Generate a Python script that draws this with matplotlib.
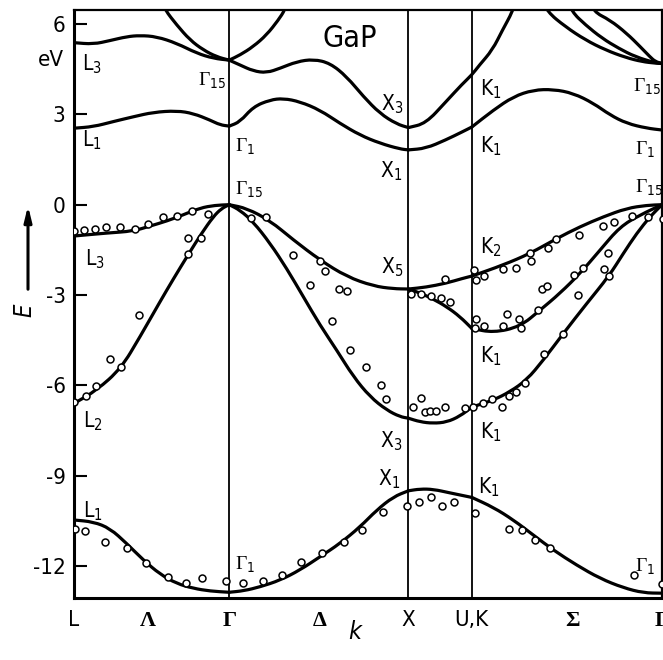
import numpy as np
import matplotlib
matplotlib.use('Agg')
import matplotlib.pyplot as plt
from matplotlib import transforms, font_manager
from matplotlib.path import Path
from matplotlib.patches import PathPatch

# pick a narrow sans face if one is available
_names = {f.name for f in font_manager.fontManager.ttflist}
narrow = next((n for n in ['Liberation Sans Narrow', 'DejaVu Sans Condensed']
               if n in _names), 'DejaVu Sans')
plt.rcParams['font.family'] = [narrow, 'DejaVu Sans']
plt.rcParams['font.stretch'] = 'condensed'
plt.rcParams['mathtext.fontset'] = 'custom'
plt.rcParams['mathtext.rm'] = narrow + ':stretch=condensed'
plt.rcParams['mathtext.it'] = narrow + ':italic:stretch=condensed'
plt.rcParams['mathtext.bf'] = narrow + ':bold:stretch=condensed'

# symmetry points along the path (units of 2pi/a)
sym_k = [0.0, 0.413, 0.866, 1.373, 1.866, 2.220, 2.779, 3.281]
sym_lab = ['L', 'Λ', 'Γ', 'Δ', 'X', 'U,K', 'Σ', 'Γ']
k_lines = [0.866, 1.866, 2.220]

# --- calculated bands, E in eV ---
# L -> Gamma
lg_v1_k = [0, 0.108, 0.201, 0.294, 0.387, 0.480, 0.573, 0.666, 0.759, 0.866]
lg_v1_e = [-10.47, -10.53, -10.75, -11.25, -11.80, -12.27, -12.58, -12.74, -12.83, -12.87]
lg_v2_k = [0, 0.127, 0.262, 0.368, 0.480, 0.554, 0.638, 0.712, 0.777, 0.822, 0.866]
lg_v2_e = [-6.60, -6.16, -5.44, -4.39, -3.22, -2.47, -1.65, -0.95, -0.40, -0.13, 0]
lg_v3_k = [0, 0.184, 0.329, 0.424, 0.519, 0.608, 0.703, 0.787, 0.866]
lg_v3_e = [-1.04, -0.94, -0.88, -0.71, -0.54, -0.34, -0.11, -0.02, 0]
lg_c1_k = [0, 0.108, 0.219, 0.331, 0.443, 0.573, 0.666, 0.759, 0.815, 0.866]
lg_c1_e = [2.54, 2.59, 2.76, 2.92, 3.07, 3.12, 3.03, 2.81, 2.65, 2.61]
lg_c2_k = [0, 0.108, 0.201, 0.294, 0.368, 0.461, 0.573, 0.685, 0.778, 0.866]
lg_c2_e = [5.38, 5.33, 5.45, 5.58, 5.62, 5.58, 5.36, 5.03, 4.86, 4.80]
lg_c3_k = [0.469, 0.508, 0.573, 0.647, 0.721, 0.796, 0.866]
lg_c3_e = [6.96, 6.47, 5.97, 5.47, 5.14, 4.91, 4.80]

# Gamma -> X
gx_v1_k = [0.866, 0.948, 1.038, 1.150, 1.261, 1.373, 1.484, 1.596, 1.689, 1.782, 1.866]
gx_v1_e = [-12.87, -12.82, -12.69, -12.47, -12.13, -11.69, -11.25, -10.70, -10.14, -9.70, -9.50]
gx_v2_k = [0.866, 0.926, 1.0, 1.094, 1.187, 1.280, 1.373, 1.466, 1.559, 1.652, 1.745, 1.819, 1.866]
gx_v2_e = [0, -0.18, -0.57, -1.28, -2.12, -3.06, -4.00, -4.83, -5.71, -6.38, -6.82, -7.04, -7.09]
gx_v3_k = [0.866, 0.964, 1.094, 1.224, 1.373, 1.522, 1.670, 1.780, 1.866]
gx_v3_e = [0, -0.12, -0.53, -1.17, -1.84, -2.39, -2.70, -2.79, -2.80]
gx_c1_k = [0.866, 0.926, 1.0, 1.094, 1.168, 1.261, 1.373, 1.484, 1.596, 1.707, 1.819, 1.866]
gx_c1_e = [2.61, 2.75, 3.25, 3.48, 3.53, 3.42, 3.14, 2.70, 2.31, 2.04, 1.85, 1.82]
gx_c2_k = [0.866, 0.926, 1.0, 1.075, 1.150, 1.243, 1.336, 1.429, 1.522, 1.615, 1.707, 1.800, 1.866]
gx_c2_e = [4.80, 4.64, 4.44, 4.38, 4.53, 4.75, 4.83, 4.70, 4.25, 3.59, 3.03, 2.68, 2.56]
gx_c3_k = [0.866, 0.926, 1.0, 1.075, 1.140, 1.177, 1.205]
gx_c3_e = [4.80, 4.97, 5.25, 5.64, 6.13, 6.47, 6.96]

# X -> U,K
xk_v1_k = [1.866, 1.931, 2.005, 2.098, 2.220]
xk_v1_e = [-9.50, -9.44, -9.45, -9.57, -9.72]
xk_v2_k = [1.866, 1.931, 2.003, 2.080, 2.154, 2.220]
xk_v2_e = [-7.09, -7.21, -7.26, -7.22, -7.02, -6.72]
xk_v3_k = [1.866, 1.931, 2.003, 2.080, 2.154, 2.220]
xk_v3_e = [-2.80, -2.93, -3.13, -3.39, -3.72, -4.11]
xk_v4_k = [1.866, 1.963, 2.074, 2.167, 2.220]
xk_v4_e = [-2.80, -2.74, -2.61, -2.45, -2.37]
xk_c1_k = [1.866, 1.963, 2.074, 2.167, 2.220]
xk_c1_e = [1.82, 1.87, 2.15, 2.42, 2.58]
xk_c2_k = [1.866, 1.963, 2.074, 2.167, 2.220, 2.260, 2.335, 2.391, 2.447, 2.477]
xk_c2_e = [2.56, 2.70, 3.41, 4.01, 4.31, 4.62, 5.14, 5.80, 6.41, 6.96]

# K -> Gamma
kg_v1_k = [2.220, 2.340, 2.452, 2.563, 2.675, 2.805, 2.935, 3.065, 3.177, 3.281]
kg_v1_e = [-9.72, -10.05, -10.47, -10.97, -11.47, -11.97, -12.41, -12.72, -12.89, -12.90]
kg_v2_k = [2.220, 2.340, 2.433, 2.526, 2.619, 2.731, 2.861, 2.985, 3.065, 3.140, 3.214, 3.281]
kg_v2_e = [-6.72, -6.49, -6.21, -5.82, -5.16, -4.27, -3.28, -2.37, -1.62, -0.95, -0.40, 0]
kg_v3_k = [2.220, 2.340, 2.489, 2.601, 2.712, 2.824, 2.935, 3.047, 3.159, 3.281]
kg_v3_e = [-4.11, -4.25, -4.05, -3.50, -2.94, -2.28, -1.51, -0.73, -0.34, 0]
kg_v4_k = [2.220, 2.396, 2.545, 2.694, 2.824, 2.954, 3.084, 3.196, 3.281]
kg_v4_e = [-2.37, -2.00, -1.62, -1.12, -0.73, -0.40, -0.12, -0.02, 0]
kg_c1_k = [2.220, 2.340, 2.452, 2.563, 2.675, 2.786, 2.898, 2.991, 3.084, 3.196, 3.281]
kg_c1_e = [2.58, 3.14, 3.59, 3.81, 3.83, 3.70, 3.37, 2.98, 2.70, 2.54, 2.48]
kg_c2_k = [2.600, 2.640, 2.742, 2.854, 2.965, 3.077, 3.170, 3.244, 3.281]
kg_c2_e = [6.96, 6.41, 5.91, 5.47, 5.14, 4.89, 4.75, 4.70, 4.69]
kg_c3_k = [2.745, 2.777, 2.854, 2.946, 3.040, 3.133, 3.244, 3.281]
kg_c3_e = [6.96, 6.41, 5.97, 5.53, 5.19, 4.91, 4.71, 4.69]
kg_c4_k = [2.868, 2.898, 2.991, 3.084, 3.159, 3.214, 3.244, 3.281]
kg_c4_e = [6.96, 6.41, 6.13, 5.69, 5.25, 4.91, 4.75, 4.69]

bands = [
    (lg_v1_k, lg_v1_e), (lg_v2_k, lg_v2_e), (lg_v3_k, lg_v3_e),
    (lg_c1_k, lg_c1_e), (lg_c2_k, lg_c2_e), (lg_c3_k, lg_c3_e),
    (gx_v1_k, gx_v1_e), (gx_v2_k, gx_v2_e), (gx_v3_k, gx_v3_e),
    (gx_c1_k, gx_c1_e), (gx_c2_k, gx_c2_e), (gx_c3_k, gx_c3_e),
    (xk_v1_k, xk_v1_e), (xk_v2_k, xk_v2_e), (xk_v3_k, xk_v3_e),
    (xk_v4_k, xk_v4_e), (xk_c1_k, xk_c1_e), (xk_c2_k, xk_c2_e),
    (kg_v1_k, kg_v1_e), (kg_v2_k, kg_v2_e), (kg_v3_k, kg_v3_e),
    (kg_v4_k, kg_v4_e), (kg_c1_k, kg_c1_e), (kg_c2_k, kg_c2_e),
    (kg_c3_k, kg_c3_e), (kg_c4_k, kg_c4_e),
]

# --- photoemission data points ---
exp_k = [0, 0.056, 0.117, 0.177, 0.258, 0.340, 0.411, 0.494, 0.576, 0.660,
         0.749, 0.636, 0.711, 0.638, 0.364, 0.201, 0.262, 0.123, 0.065, 0,
         0.006, 0.061, 0.175, 0.297, 0.400, 0.526, 0.625, 0.716, 0.848,
         0.941, 1.053, 1.162, 1.267, 1.386, 1.507, 1.609, 1.726, 1.856, 1.925,
         1.994, 2.053, 2.122, 2.239,
         2.426, 2.498, 2.574, 2.656, 3.125, 3.283,
         0.986, 1.070, 1.224, 1.371, 1.402, 1.317, 1.479, 1.525, 1.438, 1.538,
         1.628, 1.713, 1.739,
         1.880, 1.936, 1.992, 2.046, 2.098, 2.070, 2.234, 2.241, 2.243, 2.238,
         1.890, 1.938, 1.957, 1.986, 2.018, 2.072, 2.182, 2.228,
         2.289, 2.392, 2.465, 2.550, 2.544, 2.643, 2.690, 2.820, 2.950, 3.015,
         3.112, 3.205, 3.287,
         2.610, 2.641, 2.792, 2.840, 2.814, 2.981, 2.959, 2.985,
         2.288, 2.414, 2.396, 2.481, 2.496, 2.591, 2.730, 2.624, 2.517, 2.466,
         2.426, 2.331, 2.281, 2.390]
exp_e = [-0.87, -0.84, -0.81, -0.73, -0.75, -0.80, -0.64, -0.40, -0.37, -0.20,
         -0.30, -1.11, -1.10, -1.65, -3.65, -5.13, -5.40, -6.02, -6.35, -6.55,
         -10.77, -10.85, -11.20, -11.39, -11.90, -12.37, -12.57, -12.40, -12.51,
         -12.57, -12.51, -12.31, -11.86, -11.57, -11.21, -10.81, -10.20, -10.01, -9.87,
         -9.69, -10.02, -9.88, -10.23,
         -10.78, -10.81, -11.14, -11.39, -12.29, -12.60,
         -0.45, -0.42, -1.68, -1.87, -2.19, -2.68, -2.81, -2.87, -3.86, -4.82,
         -5.39, -5.98, -6.46,
         -2.98, -2.98, -3.04, -3.11, -3.23, -2.46, -2.18, -2.51, -3.80, -4.11,
         -6.73, -6.43, -6.88, -6.86, -6.84, -6.72, -6.76, -6.73,
         -2.36, -2.14, -2.09, -1.86, -1.60, -1.43, -1.15, -1.02, -0.72, -0.57,
         -0.37, -0.40, -0.48,
         -2.81, -2.71, -2.33, -2.10, -2.99, -1.60, -2.14, -2.37,
         -4.02, -3.63, -4.04, -3.80, -4.10, -3.49, -4.30, -4.97, -5.92, -6.22,
         -6.35, -6.46, -6.60, -6.71]

# level labels: text, k, E (baseline), alignment
lab_txt = ['L$_3$', 'L$_1$', 'Γ$_{15}$', 'Γ$_1$', 'Γ$_{15}$', 'X$_3$', 'X$_1$',
           'K$_1$', 'K$_1$', 'Γ$_{15}$', 'Γ$_1$', 'Γ$_{15}$',
           'L$_3$', 'L$_2$', 'L$_1$', 'Γ$_1$', 'X$_5$', 'K$_2$', 'K$_1$',
           'X$_3$', 'K$_1$', 'X$_1$', 'K$_1$', 'Γ$_1$']
lab_k = [0.045, 0.045, 0.848, 0.898, 0.898, 1.836, 1.830,
         2.265, 2.265, 3.119, 3.130, 3.130,
         0.061, 0.050, 0.050, 0.898, 1.836, 2.265, 2.265,
         1.830, 2.265, 1.819, 2.254, 3.130]
lab_e = [4.47, 1.92, 3.94, 1.75, 0.32, 3.14, 0.92,
         3.64, 1.72, 3.74, 1.65, 0.39,
         -2.00, -7.38, -10.37, -12.13, -2.27, -1.61, -5.23,
         -8.05, -7.75, -9.31, -9.58, -12.20]
lab_ha = ['left', 'left', 'right', 'left', 'left', 'right', 'right',
          'left', 'left', 'left', 'left', 'left',
          'left', 'left', 'left', 'left', 'right', 'left', 'left',
          'right', 'left', 'right', 'left', 'left']


def band_path(k, e):
    # quadratic Bezier through the segment midpoints, ends pinned
    p = np.column_stack([k, e])
    mid = (p[:-1] + p[1:]) / 2
    verts = [p[0], mid[0]]
    codes = [Path.MOVETO, Path.LINETO]
    for i in range(1, len(p) - 1):
        verts += [p[i], mid[i]]
        codes += [Path.CURVE3, Path.CURVE3]
    verts.append(p[-1])
    codes.append(Path.LINETO)
    return Path(verts, codes)


fig = plt.figure(figsize=(6.63, 6.60), dpi=100)
ax = fig.add_axes([74/663, 1 - 598/660, 588/663, 588/660])

for kk, ee in bands:
    ax.add_patch(PathPatch(band_path(kk, ee), fill=False, edgecolor='black',
                           lw=2.3, capstyle='round', joinstyle='round', zorder=3))

for kl in k_lines:
    ax.axvline(kl, color='black', lw=1.3, zorder=2)

ax.plot(exp_k, exp_e, 'o', ms=5, mfc='white', mec='black', mew=1.1, zorder=4)

for t, kk, ee, ha in zip(lab_txt, lab_k, lab_e, lab_ha):
    if t.startswith('Γ'):
        ax.text(kk, ee, t, ha=ha, va='baseline', fontsize=14,
                family=['Liberation Serif', 'DejaVu Serif'], zorder=5)
    else:
        ax.text(kk, ee, t, ha=ha, va='baseline', fontsize=15, zorder=5)

ax.text(1.54, 5.24, 'GaP', ha='center', va='baseline', fontsize=22)

ax.set_xlim(0, 3.281)
ax.set_ylim(-13.06, 6.465)
ax.set_yticks([6, 3, 0, -3, -6, -9, -12])
ax.set_yticklabels(['6', '3', '0', '-3', '-6', '-9', '-12'], fontsize=16)
ax.tick_params(axis='y', direction='in', length=9, width=1.5, pad=6, right=False)
ax.set_xticks(sym_k)
ax.set_xticklabels(sym_lab, fontsize=16)
ax.tick_params(axis='x', length=0, pad=9)
for tl in ax.get_xticklabels():
    if tl.get_text() in ('Λ', 'Γ', 'Δ', 'Σ'):
        tl.set_family(['Liberation Serif', 'DejaVu Serif'])
        tl.set_fontweight('bold')

for side in ['left', 'bottom']:
    ax.spines[side].set_linewidth(2.2)
for side in ['top', 'right']:
    ax.spines[side].set_linewidth(1.6)

# unit label under the top tick
trans = transforms.blended_transform_factory(ax.transAxes, ax.transData)
ax.text(-0.017, 4.62, 'eV', transform=trans, ha='right', va='baseline', fontsize=16)

# energy axis label with upward arrow
fig.text(24/663, 1 - 310/660, 'E', rotation=90, ha='center', va='center',
         fontsize=17, style='italic')
ax.annotate('', xy=(28/663, 1 - 203/660), xytext=(28/663, 1 - 292/660),
            xycoords='figure fraction', textcoords='figure fraction',
            arrowprops=dict(arrowstyle='-|>,head_length=0.9,head_width=0.22',
                            lw=2.2, color='black'))
fig.text(355/663, 1 - 632/660, 'k', ha='center', va='center', fontsize=18, style='italic')

plt.savefig('out.png', dpi=100)
